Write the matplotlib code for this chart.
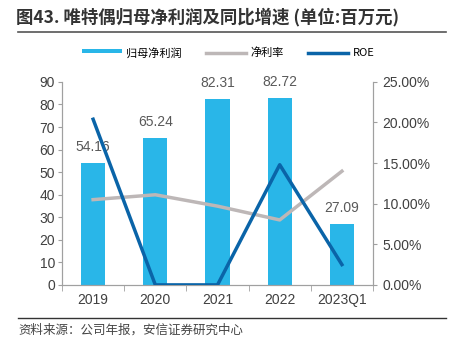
import matplotlib
matplotlib.use('Agg')
import matplotlib.pyplot as plt
from matplotlib.ticker import FuncFormatter

plt.rcParams['font.family'] = ['Noto Sans CJK SC', 'DejaVu Sans']

years = ['2019', '2020', '2021', '2022', '2023Q1']
net_profit = [54.16, 65.24, 82.31, 82.72, 27.09]
net_margin = [10.5, 11.1, 9.7, 8.0, 14.0]
roe = [20.4, 0.0, 0.0, 14.8, 2.5]

fig = plt.figure(figsize=(4.56, 3.5), dpi=100)
ax1 = fig.add_axes([0.136, 0.186, 0.682, 0.580])
ax2 = ax1.twinx()

x = list(range(len(years)))
bar_color = '#29B6E8'
bars = ax1.bar(x, net_profit, width=0.39, color=bar_color, label='归母净利润', zorder=2)
for xi, v in zip(x, net_profit):
    ax1.text(xi, v + 4, f'{v:.2f}', ha='center', va='bottom', fontsize=10,
             color='#595959', family=['Liberation Sans'], zorder=5)

l1, = ax2.plot(x, net_margin, color='#BDB7B7', linewidth=2.5, label='净利率', zorder=3)
l2, = ax2.plot(x, roe, color='#0A64A8', linewidth=2.5, label='ROE', zorder=4)

ax1.set_xlim(-0.5, 4.5)
ax1.set_ylim(0, 90)
ax1.set_yticks(range(0, 91, 10))
ax2.set_ylim(0, 25)
ax2.set_yticks([0, 5, 10, 15, 20, 25])
ax2.yaxis.set_major_formatter(FuncFormatter(lambda v, p: f'{v:.2f}%'))

ax1.set_xticks(x)
ax1.set_xticklabels(years)
ax1.set_xticks([i + 0.5 for i in range(-1, 5)], minor=True)
ax1.tick_params(axis='x', which='major', length=0, pad=6, labelsize=10, labelcolor='#404040')
ax1.tick_params(axis='x', which='minor', length=4, color='#A0A0A0', direction='out')
ax1.tick_params(axis='y', length=3, color='#A0A0A0', labelsize=10, labelcolor='#404040', pad=2)
ax2.tick_params(axis='y', length=3, color='#A0A0A0', labelsize=10, labelcolor='#404040', pad=4)
for lab in ax1.get_xticklabels() + ax1.get_yticklabels() + ax2.get_yticklabels():
    lab.set_family(['Liberation Sans'])

for ax in (ax1, ax2):
    ax.spines['top'].set_visible(False)
    for s in ('left', 'right', 'bottom'):
        ax.spines[s].set_color('#A0A0A0')
        ax.spines[s].set_linewidth(0.8)

fig.legend(handles=[bars, l1, l2], labels=['归母净利润', '净利率', 'ROE'],
           loc='center', bbox_to_anchor=(0.5, 0.849), ncol=3, frameon=False,
           fontsize=8, handlelength=3.6, handletextpad=0.4, columnspacing=2.2,
           handleheight=0.5)
leg = fig.legends[0]
for h in leg.legend_handles:
    if hasattr(h, 'set_height'):
        h.set_height(3)
        h.set_y(h.get_y() + 1.5)

fig.text(0.035, 0.952, '图43. 唯特偶归母净利润及同比增速 (单位:百万元)', fontsize=12.5,
         fontweight='bold', color='#333333', va='center')
fig.add_artist(plt.Line2D([0.04, 0.977], [0.91, 0.91], color='#555555', linewidth=1.2))
fig.add_artist(plt.Line2D([0.04, 0.977], [0.091, 0.091], color='#333333', linewidth=1.0))
fig.text(0.04, 0.057, '资料来源：公司年报，安信证券研究中心', fontsize=9, color='#444444',
         va='center', style='italic')

fig.savefig('out.png', dpi=100)
